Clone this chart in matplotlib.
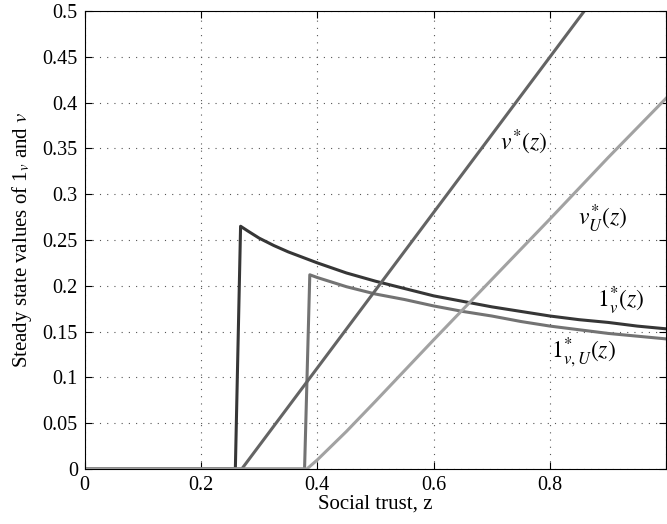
import matplotlib
matplotlib.use("Agg")
import matplotlib.pyplot as plt

# v*(z): stays at zero, then rises straight
z_v = [0.0, 0.27, 0.859]
v_star = [0.0, 0.0, 0.5]

# v*_U(z)
z_vu = [0.0, 0.382, 0.40, 0.45, 0.50, 0.60, 0.70, 0.80, 0.90, 1.0]
vu_star = [0.0, 0.0, 0.010, 0.041, 0.074, 0.141, 0.207, 0.273, 0.340, 0.405]

# 1*_v(z)
z_l = [0.0, 0.259, 0.268, 0.28, 0.30, 0.325, 0.35, 0.375, 0.40, 0.45, 0.50, 0.55,
       0.60, 0.65, 0.70, 0.75, 0.80, 0.85, 0.90, 0.95, 1.0]
l_star = [0.0, 0.0, 0.265, 0.260, 0.252, 0.244, 0.237, 0.231, 0.225, 0.214, 0.205, 0.197,
          0.189, 0.183, 0.177, 0.172, 0.167, 0.163, 0.160, 0.156, 0.153]

# 1*_{v,U}(z)
z_lu = [0.0, 0.378, 0.387, 0.40, 0.45, 0.50, 0.55, 0.60, 0.65, 0.70, 0.75, 0.80,
        0.85, 0.90, 0.95, 1.0]
lu_star = [0.0, 0.0, 0.212, 0.209, 0.199, 0.191, 0.185, 0.178, 0.172, 0.167, 0.161, 0.156,
           0.152, 0.148, 0.145, 0.142]

x_ticks = [0, 0.2, 0.4, 0.6, 0.8, 1.0]
x_labels = ["0", "0.2", "0.4", "0.6", "0.8", ""]
y_ticks = [0, 0.05, 0.1, 0.15, 0.2, 0.25, 0.3, 0.35, 0.4, 0.45, 0.5]
y_labels = ["0", "0.05", "0.1", "0.15", "0.2", "0.25", "0.3", "0.35", "0.4", "0.45", "0.5"]

plt.rcParams["font.family"] = ["Liberation Serif", "DejaVu Serif"]
plt.rcParams["mathtext.fontset"] = "stix"

fig = plt.figure(figsize=(6.67, 5.24), dpi=100)
ax = fig.add_axes([0.127, 0.105, 0.872, 0.874])

lw = 2.2
ax.plot(z_l, l_star, color="#363636", linewidth=lw)
ax.plot(z_lu, lu_star, color="#737373", linewidth=lw)
ax.plot(z_v, v_star, color="#646464", linewidth=lw)
ax.plot(z_vu, vu_star, color="#a2a2a2", linewidth=lw)

ax.set_xlim(0, 1)
ax.set_ylim(0, 0.5)
ax.set_xticks(x_ticks)
ax.set_xticklabels(x_labels)
ax.set_yticks(y_ticks)
ax.set_yticklabels(y_labels)
ax.tick_params(direction="in", top=True, right=True, labelsize=14.5, length=5, pad=5)
ax.grid(True, color="#555555", linestyle=(0, (1, 5.5)), linewidth=0.8)

ax.set_xlabel("Social trust, z", fontsize=15, labelpad=0)
ax.set_ylabel(r"Steady state values of 1$_{v}$ and $v$", fontsize=15, labelpad=6)

ax.text(0.755, 0.357, r"$v^{*}(z)$", fontsize=17, ha="center", va="center")
ax.text(0.89, 0.273, r"$v^{*}_{U}(z)$", fontsize=17, ha="center", va="center")
ax.text(0.921, 0.183, r"$1^{*}_{v}(z)$", fontsize=17, ha="center", va="center")
ax.text(0.857, 0.127, r"$1^{*}_{v,U}(z)$", fontsize=17, ha="center", va="center")

fig.savefig("out.png", dpi=100)
